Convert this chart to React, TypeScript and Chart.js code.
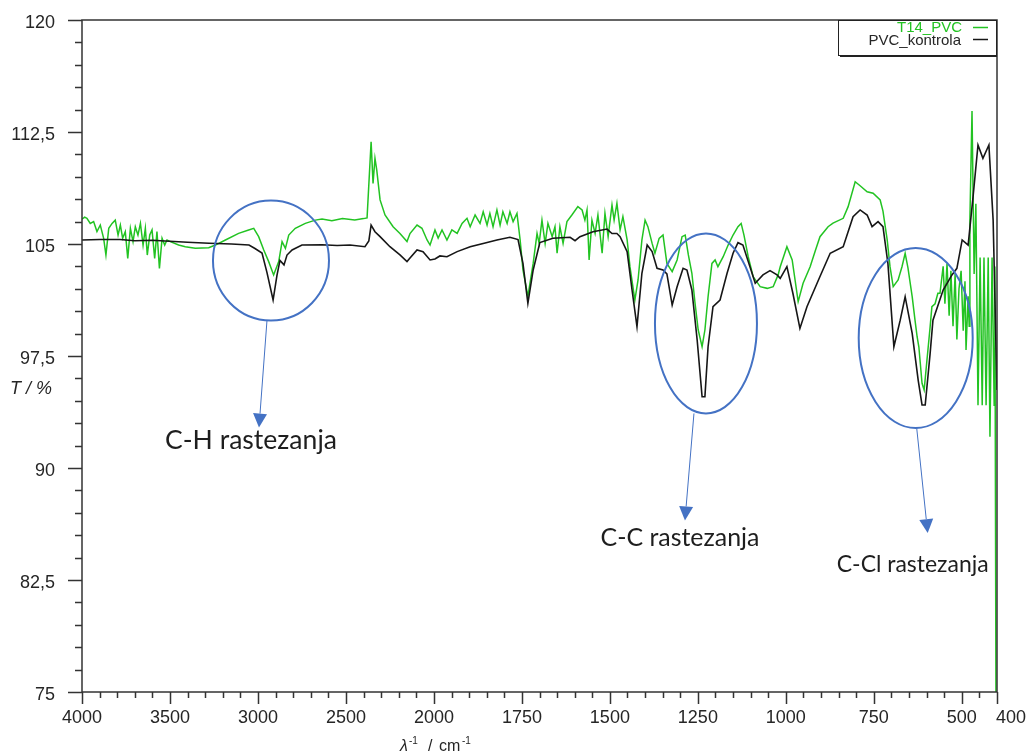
import React, { useEffect, useRef } from "react";
import { Chart, registerables } from "chart.js";

Chart.register(...registerables);

// ---------- DATA ----------
const seriesNames = ["T14_PVC", "PVC_kontrola"];

const kontrolaWn = [
  4000, 3900, 3784, 3700, 3600, 3528, 3400, 3278, 3150, 3051, 3017, 2977, 2949, 2914, 2892, 2875, 2852, 2835, 2806, 2750,
  2636, 2550, 2477, 2392, 2370, 2357, 2335, 2306, 2250, 2193, 2153, 2136, 2096, 2062, 2022, 1997, 1983, 1963, 1934, 1897,
  1860, 1821, 1784, 1761, 1747, 1733, 1718, 1699, 1662, 1613, 1599, 1585, 1548, 1508, 1494, 1480, 1471, 1451, 1437, 1423,
  1409, 1394, 1380, 1366, 1349, 1338, 1323, 1309, 1292, 1281, 1267, 1252, 1238, 1230, 1221, 1207, 1187, 1167, 1150, 1136,
  1122, 1102, 1087, 1065, 1045, 1025, 1016, 997, 980, 960, 940, 903, 874, 837, 809, 789, 769, 755, 738, 724,
  710, 693, 675, 661, 641, 624, 613, 604, 590, 582, 553, 528, 514, 499, 482, 468, 454, 440, 423, 411, 400,
];
const kontrolaT = [
  105.27, 105.3, 105.3, 105.22, 105.25, 105.2, 105.12, 105.05, 105.0, 104.93, 104.7, 104.4, 103.1, 101.25, 102.9, 103.9, 103.6, 104.26, 104.6, 104.93,
  104.95, 104.9, 104.93, 104.82, 105.2, 106.27, 105.82, 105.49, 104.82, 104.27, 103.82, 104.06, 104.6, 104.49, 103.93, 104.0, 104.2, 104.15, 104.49, 104.82,
  105.04, 105.27, 105.45, 105.3, 103.7, 101.03, 103.26, 105.1, 105.38, 105.45, 105.22, 105.49, 105.82, 106.0, 105.7, 105.7, 105.49, 104.49, 101.92, 99.46,
  103.04, 104.93, 104.49, 103.37, 103.26, 103.0, 100.91, 102.14, 103.37, 103.26, 101.92, 98.57, 94.77, 94.77, 98.12, 100.8, 101.25, 103.04, 104.38, 105.09,
  104.93, 103.48, 102.37, 102.93, 103.22, 102.93, 102.7, 103.48, 101.7, 99.35, 100.8, 102.82, 104.38, 104.82, 106.83, 107.28, 106.94, 106.16, 106.5, 106.16,
  103.7, 98.12, 99.9, 101.47, 99.02, 95.89, 94.22, 94.22, 97.68, 99.9, 101.92, 102.93, 103.37, 105.27, 104.93, 108.17, 111.63, 110.74, 111.63, 106.6, 95.22,
];

const t14Wn = [
  4000, 3985, 3972, 3953, 3934, 3915, 3896, 3877, 3864, 3848, 3829, 3811, 3795, 3782, 3769, 3754, 3740, 3725, 3710, 3697,
  3682, 3668, 3653, 3640, 3629, 3615, 3602, 3587, 3574, 3560, 3545, 3530, 3517, 3498, 3451, 3413, 3356, 3280, 3242, 3185,
  3110, 3053, 3024, 2996, 2967, 2939, 2911, 2882, 2863, 2844, 2825, 2788, 2731, 2674, 2636, 2580, 2520, 2450, 2400, 2380,
  2357, 2346, 2335, 2325, 2306, 2278, 2232, 2193, 2153, 2136, 2096, 2068, 2039, 2022, 1997, 1988, 1977, 1963, 1949, 1934,
  1920, 1906, 1897, 1883, 1869, 1860, 1849, 1841, 1832, 1821, 1812, 1804, 1792, 1784, 1775, 1764, 1755, 1747, 1733, 1718,
  1707, 1701, 1693, 1684, 1676, 1664, 1656, 1650, 1642, 1633, 1622, 1608, 1591, 1579, 1571, 1565, 1559, 1551, 1542, 1534,
  1522, 1514, 1505, 1494, 1488, 1480, 1471, 1463, 1451, 1443, 1429, 1420, 1409, 1400, 1392, 1380, 1372, 1360, 1349, 1338,
  1323, 1309, 1295, 1286, 1277, 1267, 1258, 1249, 1238, 1230, 1221, 1210, 1201, 1193, 1178, 1164, 1150, 1136, 1127, 1119,
  1107, 1093, 1073, 1053, 1036, 1022, 1016, 997, 982, 965, 951, 931, 917, 903, 880, 866, 837, 823, 803, 789,
  769, 752, 732, 724, 712, 704, 695, 681, 670, 661, 653, 641, 633, 627, 622, 613, 607, 599, 590, 585,
  576, 568, 562, 553, 548, 542, 536, 531, 525, 519, 514, 508, 502, 496, 491, 488, 482, 479, 477, 471,
  465, 460, 454, 448, 442, 437, 431, 425, 420, 414, 408, 406, 403, 400,
];
const t14T = [
  106.67, 106.8, 106.72, 106.38, 106.5, 105.83, 106.27, 105.38, 104.26, 106.05, 106.38, 106.6, 105.6, 106.27, 105.38, 105.83, 104.04, 106.05, 105.16, 106.16,
  105.6, 106.38, 104.93, 106.05, 104.26, 105.6, 105.94, 104.04, 105.83, 103.37, 105.38, 104.93, 105.27, 105.16, 104.93, 104.82, 104.71, 104.75, 104.93, 105.27,
  105.71, 105.94, 106.05, 105.49, 104.6, 103.82, 102.93, 103.82, 105.16, 104.71, 105.6, 106.05, 106.38, 106.6, 106.67, 106.55, 106.7, 106.6, 106.7, 106.75,
  111.85, 109.06, 110.74, 109.96, 107.95, 106.94, 106.16, 105.71, 105.16, 105.7, 106.27, 106.05, 105.27, 104.93, 105.94, 105.4, 105.94, 105.27, 105.94, 105.71,
  106.38, 106.72, 106.16, 106.94, 106.38, 107.16, 106.27, 107.05, 106.16, 107.28, 106.27, 107.16, 106.38, 107.16, 106.5, 107.05, 105.27, 103.26, 101.5, 103.7,
  105.71, 105.04, 106.6, 105.04, 106.38, 105.49, 106.16, 104.38, 106.16, 105.04, 106.5, 106.94, 107.5, 107.28, 106.6, 107.28, 103.93, 106.6, 105.71, 106.94,
  104.38, 107.05, 105.49, 107.61, 106.6, 107.72, 105.94, 106.83, 105.27, 103.48, 101.25, 102.59, 105.27, 106.6, 106.16, 105.04, 104.38, 105.38, 105.6, 103.7,
  103.15, 103.93, 105.49, 105.6, 104.27, 103.04, 101.03, 99.24, 98.12, 99.24, 101.47, 103.7, 103.93, 103.48, 104.15, 104.93, 105.6, 106.16, 106.38, 105.6,
  104.15, 102.82, 102.14, 102.03, 102.14, 102.93, 103.48, 104.82, 103.93, 101.14, 102.37, 103.48, 104.5, 105.49, 106.16, 106.4, 106.72, 107.5, 109.17, 108.9,
  108.5, 108.4, 107.95, 107.2, 105.27, 103.48, 102.14, 102.59, 103.48, 104.38, 103.4, 101.47, 99.9, 98.79, 98.1, 95.67, 95.22, 97.23, 99.46, 100.8,
  101.0, 101.7, 101.7, 103.5, 101.0, 103.7, 100.2, 103.2, 99.5, 103.0, 98.6, 102.0, 103.2, 99.2, 102.5, 97.9, 101.5, 99.5, 106.6, 113.9,
  103.0, 107.7, 94.2, 104.1, 94.2, 104.1, 94.2, 104.1, 92.1, 104.1, 94.2, 103.5, 75, 75,
];

const xTickWn = [4000, 3500, 3000, 2500, 2000, 1750, 1500, 1250, 1000, 750, 500, 400];
const yMajorTicks = [75, 82.5, 90, 97.5, 105, 112.5, 120];

const annotationLabels = ["C-H rastezanja", "C-C rastezanja", "C-Cl rastezanja"];
const annotationWn = [2926, 1227, 631];
const annotationT = [103.89, 99.68, 98.7];

// ---------- LAYOUT / STYLE ----------
const GREEN = "#22c322";
const BLACK = "#161616";
const BLUE = "#4472c4";
const AXIS = "#333333";
const LABEL = "#262626";
const TICK_FONT = "'Liberation Sans', Arial, sans-serif";
const NOTE_FONT = "Lato, 'Open Sans', sans-serif";

// ellipse radii, arrow (start/tip) and label offsets relative to ellipse centre, label width
const annotationGeom = [
  { rx: 58, ry: 60, sx: -4, sy: 60, tx: -12, ty: 167, lx: -20, ly: 180, lw: 172 },
  { rx: 51, ry: 90, sx: -12, sy: 90, tx: -21, ty: 197, lx: -26, ly: 215, lw: 159 },
  { rx: 57, ry: 90, sx: 1, sy: 90, tx: 12, ty: 195, lx: -3, ly: 227, lw: 152 },
];

// piecewise wavenumber axis: 4000-2000 compressed 2x
function toU(w: number): number {
  return w >= 2000 ? (4000 - w) / 2 : 1000 + (2000 - w);
}

function toPoints(wn: number[], t: number[]) {
  return wn.map((w, i) => ({ x: toU(w), y: t[i] }));
}

const decorPlugin = {
  id: "decor",
  afterDatasetsDraw(chart: any) {
    const ctx = chart.ctx as CanvasRenderingContext2D;
    const xs = chart.scales.x;
    const ys = chart.scales.y;
    ctx.save();
    annotationWn.forEach((w, i) => {
      const g = annotationGeom[i];
      const cx = xs.getPixelForValue(toU(w));
      const cy = ys.getPixelForValue(annotationT[i]);
      ctx.strokeStyle = BLUE;
      ctx.lineWidth = 2;
      ctx.beginPath();
      ctx.ellipse(cx, cy, g.rx, g.ry, 0, 0, Math.PI * 2);
      ctx.stroke();
      const x1 = cx + g.sx, y1 = cy + g.sy, x2 = cx + g.tx, y2 = cy + g.ty;
      const ang = Math.atan2(y2 - y1, x2 - x1);
      const hl = 14, hw = 7;
      const bx = x2 - hl * Math.cos(ang), by = y2 - hl * Math.sin(ang);
      ctx.lineWidth = 1;
      ctx.beginPath();
      ctx.moveTo(x1, y1);
      ctx.lineTo(bx, by);
      ctx.stroke();
      ctx.fillStyle = BLUE;
      ctx.beginPath();
      ctx.moveTo(x2, y2);
      ctx.lineTo(bx + hw * Math.sin(ang), by - hw * Math.cos(ang));
      ctx.lineTo(bx - hw * Math.sin(ang), by + hw * Math.cos(ang));
      ctx.closePath();
      ctx.fill();
      const text = annotationLabels[i];
      ctx.font = `100px ${NOTE_FONT}`;
      const m = ctx.measureText(text).width;
      const size = (100 * g.lw) / m;
      ctx.font = `${size}px ${NOTE_FONT}`;
      ctx.fillStyle = "#1e1e1e";
      ctx.textAlign = "center";
      ctx.textBaseline = "middle";
      ctx.fillText(text, cx + g.lx, cy + g.ly);
    });
    ctx.restore();
  },
  afterDraw(chart: any) {
    const ctx = chart.ctx as CanvasRenderingContext2D;
    const { left, right, top, bottom } = chart.chartArea;
    const xs = chart.scales.x;
    const ys = chart.scales.y;
    ctx.save();
    ctx.strokeStyle = AXIS;
    ctx.lineWidth = 1.5;
    ctx.strokeRect(left, top, right - left, bottom - top);
    ctx.beginPath();
    for (let u = 0; u <= 2600; u += 50) {
      const px = Math.round(xs.getPixelForValue(u)) + 0.5;
      const major = u % 250 === 0 || u === 2600;
      ctx.moveTo(px, bottom);
      ctx.lineTo(px, bottom + (major ? 12 : 6));
    }
    for (let k = 0; k <= 30; k++) {
      const py = Math.round(ys.getPixelForValue(75 + 1.5 * k)) + 0.5;
      const major = k % 5 === 0;
      ctx.moveTo(left, py);
      ctx.lineTo(left - (major ? 14 : 7), py);
    }
    ctx.stroke();

    // tick labels
    ctx.fillStyle = LABEL;
    ctx.font = `18px ${TICK_FONT}`;
    ctx.textBaseline = "alphabetic";
    xTickWn.forEach((w, i) => {
      const px = xs.getPixelForValue(toU(w));
      const last = i === xTickWn.length - 1;
      ctx.textAlign = last ? "left" : "center";
      ctx.fillText(String(w), last ? px - 1 : px, bottom + 31);
    });
    ctx.textAlign = "right";
    yMajorTicks.forEach((v) => {
      const py = ys.getPixelForValue(v);
      ctx.fillText(String(v).replace(".", ","), left - 27, py + 8);
    });

    // axis titles
    ctx.textAlign = "left";
    ctx.font = `italic 18px ${TICK_FONT}`;
    ctx.fillText("T / %", 10, 394);
    const by = 751;
    ctx.font = `italic 16px ${TICK_FONT}`;
    ctx.fillText("λ", 400, by);
    ctx.font = `10px ${TICK_FONT}`;
    ctx.fillText("-1", 409, by - 7);
    ctx.font = `16px ${TICK_FONT}`;
    ctx.fillText("/", 428, by);
    ctx.fillText("cm", 439, by);
    ctx.font = `10px ${TICK_FONT}`;
    ctx.fillText("-1", 462, by - 7);

    // legend
    const lx = 838, ly = 20, lw = right - 838, lh = 35;
    ctx.fillStyle = "#ffffff";
    ctx.fillRect(lx, ly, lw, lh);
    ctx.strokeStyle = "#222";
    ctx.lineWidth = 1;
    ctx.strokeRect(lx + 0.5, ly + 0.5, lw - 1, lh);
    ctx.lineWidth = 2;
    ctx.beginPath();
    ctx.moveTo(lx + 2, ly + lh + 1);
    ctx.lineTo(lx + lw, ly + lh + 1);
    ctx.stroke();
    ctx.font = `15px ${TICK_FONT}`;
    ctx.textAlign = "right";
    ctx.textBaseline = "middle";
    ctx.fillStyle = GREEN;
    ctx.fillText(seriesNames[0], 962, 28);
    ctx.fillStyle = LABEL;
    ctx.fillText(seriesNames[1], 961, 41);
    ctx.lineWidth = 1.5;
    ctx.strokeStyle = GREEN;
    ctx.beginPath();
    ctx.moveTo(973, 27.5);
    ctx.lineTo(988, 27.5);
    ctx.stroke();
    ctx.strokeStyle = BLACK;
    ctx.beginPath();
    ctx.moveTo(973, 39.5);
    ctx.lineTo(988, 39.5);
    ctx.stroke();
    ctx.restore();
  },
};

export default function App() {
  const ref = useRef<HTMLCanvasElement | null>(null);

  useEffect(() => {
    if (!ref.current) return;
    const chart = new Chart(ref.current, {
      type: "line",
      data: {
        datasets: [
          {
            label: seriesNames[1],
            data: toPoints(kontrolaWn, kontrolaT),
            borderColor: BLACK,
            backgroundColor: BLACK,
            borderWidth: 1.6,
            pointRadius: 0,
            tension: 0,
            order: 0,
          },
          {
            label: seriesNames[0],
            data: toPoints(t14Wn, t14T),
            borderColor: GREEN,
            backgroundColor: GREEN,
            borderWidth: 1.5,
            pointRadius: 0,
            tension: 0,
            order: 1,
          },
        ],
      },
      options: {
        animation: false,
        responsive: false,
        maintainAspectRatio: false,
        layout: { autoPadding: false, padding: { left: 0, right: 32, top: 20, bottom: 0 } },
        plugins: { legend: { display: false }, tooltip: { enabled: false } },
        scales: {
          x: {
            type: "linear",
            min: 0,
            max: 2600,
            grid: { display: false, drawTicks: false },
            border: { display: false },
            afterBuildTicks: (s: any) => {
              s.ticks = xTickWn.map((w) => ({ value: toU(w) }));
            },
            afterFit: (s: any) => {
              s.height = 61;
            },
            ticks: { display: false },
          },
          y: {
            min: 75,
            max: 120,
            grid: { display: false, drawTicks: false },
            border: { display: false },
            afterBuildTicks: (s: any) => {
              s.ticks = yMajorTicks.map((v) => ({ value: v }));
            },
            afterFit: (s: any) => {
              s.width = 82;
            },
            ticks: { display: false },
          },
        },
      },
      plugins: [decorPlugin],
    } as any);
    return () => chart.destroy();
  }, []);

  return (
    <div style={{ position: "fixed", left: 0, top: 0, width: 1029, height: 753, background: "#fff" }}>
      <canvas ref={ref} width={1029} height={753} style={{ display: "block" }} />
    </div>
  );
}
